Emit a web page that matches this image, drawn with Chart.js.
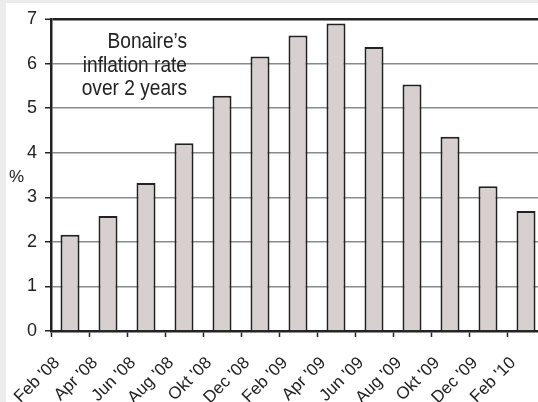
<!DOCTYPE html>
<html>
<head>
<meta charset="utf-8">
<script src="https://cdn.jsdelivr.net/npm/chart.js@4"></script>
<style>
    html, body {
        margin: 0;
        padding: 0;
        background: #ececec;
        overflow: hidden;
        width: 538px;
        height: 402px;
    }
    #wrap {
        position: absolute;
        left: 6px;
        top: 3px;
        width: 545px;
        height: 399px;
        background: #ffffff;
    }
</style>
</head>
<body>
<div id="wrap"><canvas id="chart" width="545" height="399"></canvas></div>
<script>
const months = ["Feb '08", "Apr '08", "Jun '08", "Aug '08", "Okt '08", "Dec '08", "Feb '09",
    "Apr '09", "Jun '09", "Aug '09", "Okt '09", "Dec '09", "Feb '10"];
const inflation = [2.16, 2.58, 3.32, 4.21, 5.28, 6.16, 6.63, 6.90, 6.37, 5.53, 4.36, 3.25, 2.69];
const titleLines = ["Bonaire\u2019s", "inflation rate", "over 2 years"];
const yUnit = "%";

const ink = "#222222";
const axisFont = "'Liberation Sans', Arial, sans-serif";

// title block and the "%" unit drawn straight onto the canvas
const notes = {
    id: "notes",
    afterDatasetsDraw(chart) {
        const ctx = chart.ctx;
        ctx.save();
        ctx.fillStyle = ink;
        // squeeze Liberation Sans a bit, the original uses a narrow face
        ctx.save();
        ctx.translate(181, 0);
        ctx.scale(0.87, 1);
        ctx.font = "22px " + axisFont;
        ctx.textAlign = "right";
        ctx.textBaseline = "alphabetic";
        titleLines.forEach((line, i) => {
            ctx.fillText(line, 0, 45 + i * 23.5);
        });
        ctx.restore();
        ctx.font = "17px " + axisFont;
        ctx.textAlign = "left";
        ctx.textBaseline = "middle";
        ctx.fillText(yUnit, 3, 174);
        ctx.restore();
    }
};

// keep the plot box fixed, whatever size the labels come out
function fixBox(scale, key, size) {
    scale[key] = size;
    scale.paddingLeft = 0;
    scale.paddingRight = 0;
    scale.paddingTop = 0;
    scale.paddingBottom = 0;
}

new Chart(document.getElementById("chart"), {
    type: "bar",
    data: {
        labels: months,
        datasets: [{
            data: inflation,
            backgroundColor: "#d8d0ce",
            borderColor: ink,
            borderWidth: 2,
            barPercentage: 0.5,
            categoryPercentage: 1
        }]
    },
    options: {
        responsive: false,
        animation: false,
        devicePixelRatio: 1,
        layout: {
            padding: { top: 16, right: 6, left: 0, bottom: 0 }
        },
        plugins: {
            legend: { display: false },
            tooltip: { enabled: false }
        },
        scales: {
            x: {
                offset: true,
                grid: {
                    offset: true,
                    drawOnChartArea: false,
                    tickLength: 6,
                    tickColor: ink,
                    tickWidth: 1.5
                },
                border: { color: ink, width: 2.5 },
                ticks: {
                    autoSkip: false,
                    minRotation: 45,
                    maxRotation: 45,
                    labelOffset: -13,
                    padding: 16,
                    color: ink,
                    font: { family: axisFont, size: 17 }
                },
                afterFit: (scale) => fixBox(scale, "height", 71)
            },
            y: {
                min: 0,
                max: 7,
                ticks: {
                    stepSize: 0.5,
                    padding: 8,
                    color: ink,
                    font: { family: axisFont, size: 18 },
                    callback: (v) => Number.isInteger(v) ? v : ""
                },
                grid: {
                    color: (c) => {
                        const v = c.tick.value;
                        if (v === 7) return ink;
                        return Number.isInteger(v) ? "#8a8a8a" : "rgba(0,0,0,0)";
                    },
                    lineWidth: (c) => c.tick.value === 7 ? 2.5 : 1.5,
                    tickColor: ink,
                    tickLength: 6,
                    tickWidth: 1.5
                },
                border: { color: ink, width: 2.5 },
                afterFit: (scale) => fixBox(scale, "width", 45)
            }
        }
    },
    plugins: [notes]
});
</script>
</body>
</html>
